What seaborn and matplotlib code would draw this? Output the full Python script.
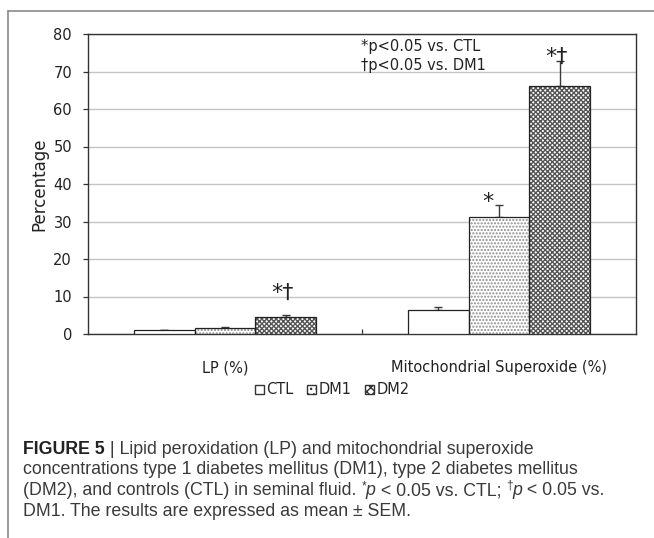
import numpy as np
import pandas as pd
import matplotlib
matplotlib.use("Agg")
import matplotlib.pyplot as plt
import seaborn as sns
from matplotlib.patches import Patch, Rectangle
from matplotlib.lines import Line2D

# data
categories = ["LP (%)", "Mitochondrial Superoxide (%)"]
groups = ["CTL", "DM1", "DM2"]
lp_mean = [1.0, 1.7, 4.5]
lp_sem = [0.2, 0.3, 0.5]
mito_mean = [6.5, 31.2, 66.1]
mito_sem = [0.6, 3.2, 6.8]
sig_lp = ["", "", "*\u2020"]
sig_mito = ["", "*", "*\u2020"]
# baseline height of each significance mark
sig_lp_y = [0, 0, 9.4]
sig_mito_y = [0, 33.6, 72.3]
yticks = [0, 10, 20, 30, 40, 50, 60, 70, 80]

df = pd.DataFrame({
    "measure": [categories[0]] * 3 + [categories[1]] * 3,
    "group": groups * 2,
    "mean": lp_mean + mito_mean,
    "sem": lp_sem + mito_sem,
    "sig": sig_lp + sig_mito,
    "sig_y": sig_lp_y + sig_mito_y,
})

sns.set_style("white")
plt.rcParams["font.family"] = ["DejaVu Sans"]
plt.rcParams["hatch.linewidth"] = 1.0

W, H = 654, 538
fig = plt.figure(figsize=(W / 100, H / 100), dpi=100)
ax = fig.add_axes([88 / W, 1 - 334 / H, 548 / W, 300 / H])

hatch_style = {"CTL": ("", "white"), "DM1": (".....", "#8c8c8c"), "DM2": ("xxxxxxx", "#555555")}

sns.barplot(data=df, x="measure", y="mean", hue="group", hue_order=groups,
            order=categories, palette=["white"] * 3, width=0.667,
            errorbar=None, legend=False, ax=ax, zorder=3)

# hatches + outline, then the plus-only error bars
for container, g in zip(ax.containers, groups):
    hatch, hcol = hatch_style[g]
    sub = df[df["group"] == g].set_index("measure").loc[categories]
    for bar, m, e, s, sy in zip(container, sub["mean"], sub["sem"], sub["sig"], sub["sig_y"]):
        bar.set_facecolor("white")
        bar.set_hatch(hatch)
        bar.set_edgecolor(hcol)
        bar.set_linewidth(0)
        ax.add_patch(Rectangle((bar.get_x(), 0), bar.get_width(), bar.get_height(),
                               fill=False, edgecolor="#222222", linewidth=0.9, zorder=4))
        xc = bar.get_x() + bar.get_width() / 2
        ax.errorbar([xc], [m], yerr=[[0], [e]], fmt="none", ecolor="#3a3a3a",
                    elinewidth=1.0, capsize=2.6, capthick=1.0, zorder=2)
        if s:
            dx = -0.04 if s == "*" else -0.012
            ax.text(xc + dx, sy, s, ha="center", va="baseline",
                    fontsize=16, color="#222222")

ax.set_ylim(0, 80)
ax.set_xlim(-0.5, 1.5)
ax.set_yticks(yticks)
ax.grid(axis="y", color="#c4c4c4", linewidth=1.0, zorder=0)
ax.set_axisbelow(True)
for sp in ax.spines.values():
    sp.set_color("#333333")
    sp.set_linewidth(1.0)
ax.tick_params(axis="y", length=3.5, width=0.9, color="#333333", pad=8,
               labelsize=10.5, labelcolor="#222222", left=True)
ax.tick_params(axis="x", length=0, pad=19, labelsize=10.5, labelcolor="#222222")
ax.set_xticks([0.5], minor=True)
ax.tick_params(axis="x", which="minor", direction="in", length=3.5, width=0.9,
               color="#333333", bottom=True)
ax.set_xlabel("")
ax.set_ylabel("Percentage", fontsize=12, color="#222222")
ax.yaxis.set_label_coords(-0.072, 0.5)

ax.text(0.496, 76.8, "*p<0.05 vs. CTL", fontsize=10.5, va="center", ha="left", color="#222222")
ax.text(0.496, 71.6, "\u2020p<0.05 vs. DM1", fontsize=10.5, va="center", ha="left", color="#222222")

handles = [Patch(facecolor="white", edgecolor="#333333", label="CTL"),
           Patch(facecolor="white", edgecolor="#333333", hatch="...", label="DM1"),
           Patch(facecolor="white", edgecolor="#333333", hatch="xxxx", label="DM2")]
fig.legend(handles=handles, loc="center", bbox_to_anchor=(332 / W, 1 - 390 / H),
           ncol=3, frameon=False, fontsize=10.5, handlelength=0.65, handleheight=0.65,
           handletextpad=0.15, columnspacing=0.9, borderpad=0)

# figure frame (left + top edges only)
frame_kw = dict(color="#8a8a8a", linewidth=1.2, transform=fig.transFigure)
fig.add_artist(Line2D([8 / W, 1], [1 - 11 / H, 1 - 11 / H], **frame_kw))
fig.add_artist(Line2D([8 / W, 8 / W], [1 - 11 / H, 0], **frame_kw))

# caption, drawn piece by piece so bold/italic/superscript parts line up
cap = dict(fontsize=12.8, color="#3a3a3a", family=["Liberation Sans", "DejaVu Sans"])
renderer = fig.canvas.get_renderer()


def write_line(pieces, x_px, base_px):
    x = x_px
    for txt, extra in pieces:
        kw = dict(cap)
        kw.update(extra)
        dy = 0
        if kw.pop("sup", False):
            kw["fontsize"] = 8.5
            dy = 6
        t = fig.text(x / W, 1 - (base_px - dy) / H, txt, va="baseline", ha="left", **kw)
        x += t.get_window_extent(renderer).width


write_line([("FIGURE 5", {"weight": "bold", "color": "#222222"}),
            (" | Lipid peroxidation (LP) and mitochondrial superoxide", {})], 23, 454)
write_line([("concentrations type 1 diabetes mellitus (DM1), type 2 diabetes mellitus", {})], 23, 474)
write_line([("(DM2), and controls (CTL) in seminal fluid. ", {}), ("*", {"sup": True}),
            ("p", {"style": "italic"}), (" < 0.05 vs. CTL; ", {}), ("\u2020", {"sup": True}),
            ("p", {"style": "italic"}), (" < 0.05 vs.", {})], 23, 495)
write_line([("DM1. The results are expressed as mean \u00b1 SEM.", {})], 23, 516)

fig.savefig("out.png", dpi=100)
